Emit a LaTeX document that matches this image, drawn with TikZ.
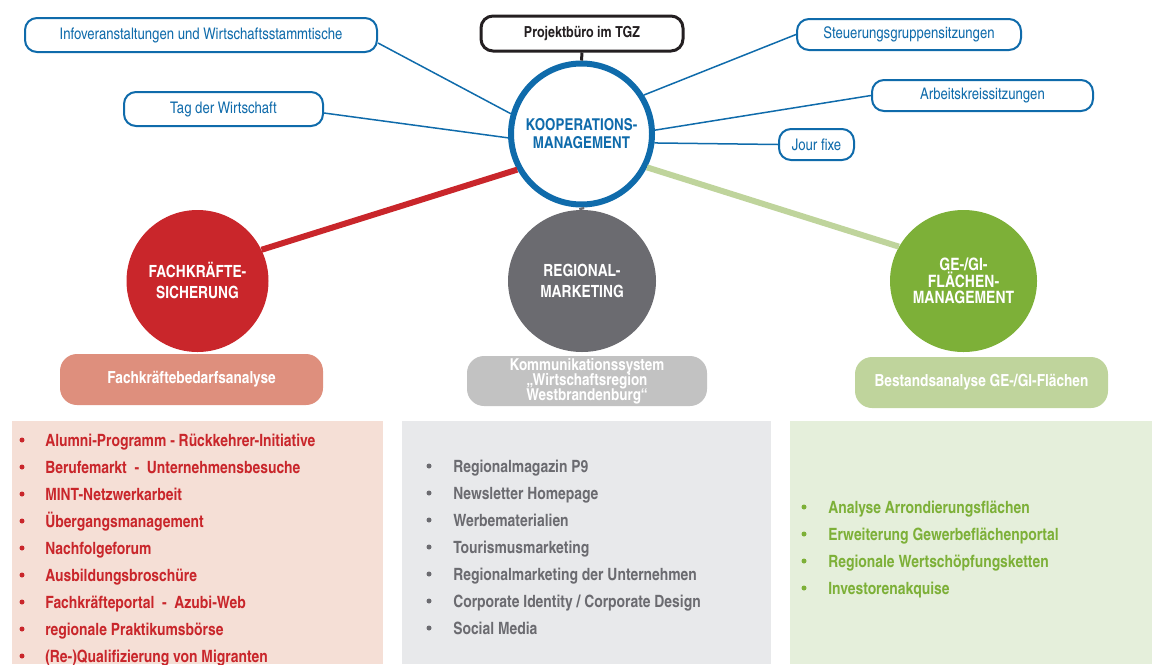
\documentclass[tikz,border=0pt]{standalone}
\usepackage{fontspec}
\setmainfont{texgyreheroscn}[Extension=.otf, UprightFont=*-regular, BoldFont=*-bold]
\usetikzlibrary{shapes.geometric}

\newlength{\du}
\setlength{\du}{0.75pt}

\tikzset{
  topic/.style={draw=koopblue, line width=2\du, fill=white, rounded corners=12\du,
    inner sep=0pt, text=koopblue, font=\fontsize{12}{14}\selectfont},
  office/.style={draw=officeblack, line width=3\du, fill=white, rounded corners=12\du,
    inner sep=0pt, text=officeblack, font=\bfseries\fontsize{11.4}{13}\selectfont},
  hub/.style={circle, draw=koopblue, line width=6\du, fill=white, minimum size=141\du,
    inner sep=0pt, align=center, text=koopblue, font=\bfseries\fontsize{12.25}{13.5}\selectfont},
  pillar/.style={ellipse, minimum height=142\du, inner sep=0pt, align=center, text=white,
    font=\bfseries\fontsize{12.6}{15.75}\selectfont\setlength\lineskiplimit{-20pt}},
  task/.style={rounded corners=17\du, minimum height=51\du, inner sep=0pt, align=center,
    text=white, font=\bfseries\fontsize{12.5}{14}\selectfont\setlength\lineskiplimit{-20pt}},
  panel/.style={anchor=north west, inner sep=0pt, minimum height=243\du},
  listentry/.style={anchor=base west, inner sep=0pt, font=\bfseries\fontsize{12.7}{15}\selectfont},
  spoke/.style={draw=koopblue, line width=1.5\du},
  branch/.style={line width=6\du},
}

\begin{document}
\begin{tikzpicture}[x=\du,y=-\du]
\definecolor{koopblue}{rgb}{0.060000, 0.420000, 0.670000}
\definecolor{officeblack}{rgb}{0.140000, 0.120000, 0.130000}
\definecolor{fachred}{rgb}{0.790000, 0.150000, 0.170000}
\definecolor{regiogray}{rgb}{0.420000, 0.420000, 0.440000}
\definecolor{flaechegreen}{rgb}{0.490000, 0.690000, 0.220000}
\definecolor{bedarfsalmon}{rgb}{0.870000, 0.560000, 0.490000}
\definecolor{kommgray}{rgb}{0.760000, 0.760000, 0.760000}
\definecolor{bestandgreen}{rgb}{0.750000, 0.830000, 0.610000}
\definecolor{fachpanel}{rgb}{0.960000, 0.875000, 0.840000}
\definecolor{regiopanel}{rgb}{0.910000, 0.913000, 0.922000}
\definecolor{flaechepanel}{rgb}{0.898000, 0.937000, 0.859000}
\useasboundingbox (0,0) rectangle (1152,664);

% meetings around the hub
\node[topic, minimum width=352\du, minimum height=34\du] (info) at (201,35) {Infoveranstaltungen und Wirtschaftsstammtische};
\node[topic, minimum width=199\du, minimum height=34\du] (tag) at (223.5,109) {Tag der Wirtschaft};
\node[office, minimum width=202\du, minimum height=35\du] (proj) at (582,33.5) {Projektbüro im TGZ};
\node[topic, minimum width=224\du, minimum height=31\du] (steuer) at (909,34.5) {Steuerungsgruppensitzungen};
\node[topic, minimum width=221\du, minimum height=31\du] (arbeit) at (982.5,95.5) {Arbeitskreissitzungen};
\node[topic, minimum width=75\du, minimum height=31\du] (jour) at (816.5,144.5) {Jour fixe};
\node[hub] (koop) at (581.5,134) {KOOPERATIONS-\\MANAGEMENT};

% the three fields of action
\node[pillar, fill=fachred, minimum width=142\du] (fach) at (197.5,281) {FACHKRÄFTE-\\SICHERUNG};
\node[pillar, fill=regiogray, minimum width=148\du] (regio) at (582,281) {REGIONAL-\\MARKETING};
\node[pillar, fill=flaechegreen, minimum width=147\du, font=\bfseries\fontsize{12.8}{12.6}\selectfont\setlength\lineskiplimit{-20pt}] (flaeche) at (963.5,281) {GE-/GI-\\FLÄCHEN-\\MANAGEMENT};

\node[task, fill=bedarfsalmon, minimum width=263\du] (bedarf) at (191.5,379.5) {Fachkräftebedarfsanalyse};
\node[task, fill=kommgray, minimum width=240\du, minimum height=50\du, font=\bfseries\fontsize{12.3}{11.2}\selectfont\setlength\lineskiplimit{-20pt}] (kommsys) at (587,381) {Kommunikationssystem\\„Wirtschaftsregion\\Westbrandenburg“};
\node[task, fill=bestandgreen, minimum width=253\du] (bestand) at (981.5,382.5) {Bestandsanalyse GE-/GI-Flächen};

% connectors
\draw[spoke] ([yshift=-8\du]info.east) -- (koop.164);
\draw[spoke] ([yshift=-4\du]tag.east) -- (koop.183);
\draw[spoke] (steuer.west) -- (koop.32);
\draw[spoke] (arbeit.west) -- (koop.3);
\draw[spoke] (jour.west) -- (koop.-7);
\draw[officeblack, line width=3\du] (proj.south) -- (koop.north);
\draw[regiogray, line width=5\du] (koop.south) -- (regio.north);
\draw[branch, fachred] (koop.209) -- (fach.26);
\draw[branch, bestandgreen] (koop.-27) -- (flaeche.152);

% lists below
\node[panel, fill=fachpanel, minimum width=371\du] (fachlist) at (12,421) {};
\node[panel, fill=regiopanel, minimum width=369\du] (regiolist) at (402,421) {};
\node[panel, fill=flaechepanel, minimum width=362\du] (flaechelist) at (790,421) {};

\foreach \entry [count=\i] in {Alumni-Programm - Rückkehrer-Initiative,
    Berufemarkt\ \ -\ \ Unternehmensbesuche, MINT-Netzwerkarbeit, Übergangsmanagement,
    Nachfolgeforum, Ausbildungsbroschüre, Fachkräfteportal\ \ -\ \ Azubi-Web,
    regionale Praktikumsbörse, (Re-)Qualifizierung von Migranten} {
  \fill[fachred] (22,{440+27*(\i-1)}) circle (2.5\du);
  \node[listentry, text=fachred] (fachitem\i) at (45,{446+27*(\i-1)}) {\entry};
}
\foreach \entry [count=\i] in {Regionalmagazin P9, Newsletter Homepage, Werbematerialien,
    Tourismusmarketing, Regionalmarketing der Unternehmen,
    Corporate Identity / Corporate Design, Social Media} {
  \fill[regiogray] (429,{466+27*(\i-1)}) circle (2.5\du);
  \node[listentry, text=regiogray] (regioitem\i) at (453,{472+27*(\i-1)}) {\entry};
}
\foreach \entry [count=\i] in {Analyse Arrondierungsflächen, Erweiterung Gewerbeflächenportal,
    Regionale Wertschöpfungsketten, Investorenakquise} {
  \fill[flaechegreen] (804,{507+27*(\i-1)}) circle (2.5\du);
  \node[listentry, text=flaechegreen] (flaecheitem\i) at (828,{513+27*(\i-1)}) {\entry};
}
\end{tikzpicture}
\end{document}
